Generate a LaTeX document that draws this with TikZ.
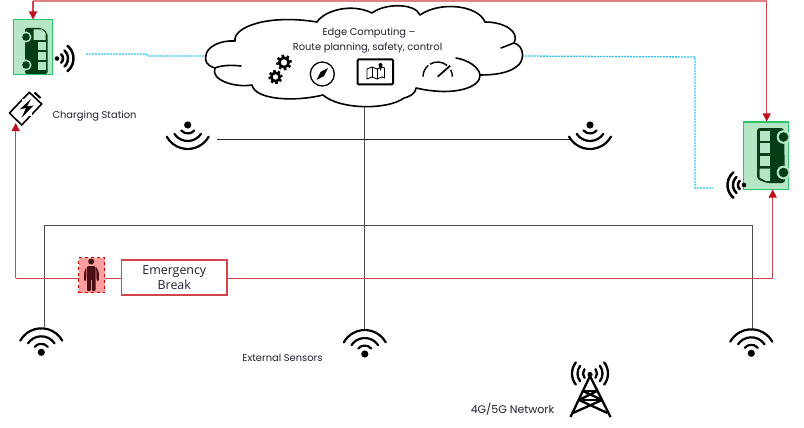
\documentclass[tikz,border=0pt]{standalone}
\usepackage{fontspec}
\setmainfont{Poppins}
\newfontfamily\boxfont{Open Sans}
\usetikzlibrary{arrows.meta}
\definecolor{busfill}{HTML}{B5E6C5}
\definecolor{busedge}{HTML}{2BC46A}
\definecolor{busdark}{HTML}{063D14}
\definecolor{redline}{HTML}{D2434B}
\definecolor{redhead}{HTML}{C00F1E}
\definecolor{redpale}{HTML}{E08080}
\definecolor{netline}{HTML}{4D4D4D}
\definecolor{linkcyan}{HTML}{2FC4F5}
\definecolor{txt}{HTML}{1E1E2E}
\definecolor{maroon}{HTML}{4A0F12}
\tikzset{
  busbox/.style={draw=busedge,fill=busfill,line width=1pt,inner sep=0pt},
  redlink/.style={draw=redline,line width=1.1pt},
  redarrow/.style={redlink,-{Triangle[width=8pt,length=8pt,color=redhead]}},
  netlink/.style={draw=netline,line width=.9pt},
  cyanlink/.style={draw=linkcyan,line width=1.3pt,dash pattern=on 2pt off 1pt},
  label/.style={font=\fontsize{9.9}{12}\selectfont,text=txt,inner sep=0pt},
}
\newcommand{\wifiicon}[4]{%
  \begin{scope}[shift={(#1,#2)},rotate=#3,x=1pt,y=1pt]
    \begin{scope}[scale=#4]
    \fill circle (3.6);
    \draw[line width=2.2pt,line cap=round] (40:8.5) arc (40:140:8.5);
    \draw[line width=2.2pt,line cap=round] (34:16) arc (34:146:16);
    \draw[line width=2.2pt,line cap=round] (29:24) arc (29:151:24);
    \end{scope}
  \end{scope}}
\newcommand{\sidewifi}[3]{%
  \begin{scope}[shift={(#1,#2)},rotate=#3,x=1pt,y=1pt]
    \fill circle (2.3);
    \foreach \r/\w in {6/45,11/47,16.5/50}{
      \draw[line width=2.5pt,line cap=round] (90-\w:\r) arc (90-\w:90+\w:\r);}
  \end{scope}}
\newcommand{\gearicon}[3]{%
  \begin{scope}[shift={(#1,#2)},x=1pt,y=1pt]
    \draw[line width=2.6pt] circle (#3*0.6);
    \foreach \a in {0,45,...,315}{\draw[line width=2.6pt] (\a+10:#3*0.72) -- (\a+10:#3);}
  \end{scope}}
\begin{document}
\begin{tikzpicture}[x=1pt,y=-1pt]
\useasboundingbox (0,0) rectangle (804,428);
\fill[white] (0,0) rectangle (804,428);

% anchors for connector ends
\coordinate (topL) at (33,1);
\coordinate (topR) at (766.7,1);
\coordinate (chargeEnd) at (15.7,123);
\coordinate (redL) at (15.7,278.3);
\coordinate (redR) at (772.7,278.3);
\coordinate (netL) at (44,225);
\coordinate (netR) at (752,225);
\coordinate (sensorL) at (44,327);
\coordinate (sensorM) at (364.5,330);
\coordinate (sensorR) at (752,329);
\coordinate (cloudB) at (364.5,106);
\coordinate (wifiUL) at (217,139);
\coordinate (wifiUR) at (570,139);
\coordinate (cyanA) at (86,54);
\coordinate (cyanB) at (146,54);
\coordinate (cyanC) at (148,56);
\coordinate (cyanD) at (208,56);
\coordinate (cyanE) at (522,56);
\coordinate (cyanF) at (695,57);
\coordinate (cyanG) at (695,188);
\coordinate (cyanH) at (713,188);

% boxes
\node[busbox,minimum width=39pt,minimum height=55pt] (busL) at (32.5,47.5) {};
\node[busbox,minimum width=45.5pt,minimum height=67pt] (busR) at (766.2,155.5) {};
\node[draw=redline,fill=white,line width=1.2pt,minimum width=105.5pt,minimum height=35pt,inner sep=0pt,align=center,font=\boxfont\fontsize{12.4}{15}\selectfont,text=txt] (ebox) at (174.3,277.5) {Emergency\\Break};

% connectors
\draw[netlink] (sensorL) -- (netL) -- (netR) -- (sensorR);
\draw[netlink,line width=.8pt] (cloudB) -- (sensorM);
\draw[line width=.7pt,draw=black!85] (wifiUL) -- (wifiUR);
\draw[redlink] (redL) -- (ebox.west|-redL);
\draw[redlink] (ebox.east|-redR) -- (redR);
\draw[redarrow] (redL) -- (chargeEnd);
\draw[redarrow] (redR) -- (redR|-busR.south);
\draw[draw=redpale,line width=3pt] (topL) -- (topR);
\draw[redarrow] (topL) -- (topL|-busL.north);
\draw[redarrow] (topR) -- (topR|-busR.north);
\draw[cyanlink] (cyanA) -- (cyanB) -- (cyanC) -- (cyanD);
\draw[cyanlink] (cyanE) -- (cyanF) -- (cyanG) -- (cyanH);

% person
\node[draw=red!85!black,fill=red!38!white,dashed,line width=1pt,minimum width=26pt,minimum height=35pt,inner sep=0pt] (person) at (91.7,275.3) {};
\fill[maroon] (91.2,261.5) circle (3);
\fill[maroon,rounded corners=1pt] (87,266) -- (95.5,266) -- (95.5,291) -- (91.8,291) -- (91.8,279) -- (90.8,279) -- (90.8,291) -- (87,291) -- cycle;
\fill[maroon,rounded corners=1pt] (86.4,266.5) -- (84.2,272) -- (84.2,281) -- (86.2,281) -- cycle;
\fill[maroon,rounded corners=1pt] (96.1,266.5) -- (98.8,272) -- (98.8,281) -- (96.6,281) -- cycle;

% left bus
\fill[busdark,rounded corners=2pt] (25,28) -- (42,28) -- (47.5,33) -- (47.5,74) -- (25,74) -- cycle;
\foreach \ya/\yb in {42/50,52/60,62/70}{\fill[busfill] (37.5,\ya) rectangle (45.5,\yb);}
\fill[busfill] (33.5,29.5) -- (42,29.5) -- (45.5,33) -- (45.5,40) -- (33.5,40) -- cycle;
\foreach \yy in {37,65}{\fill[busfill] (26,\yy) circle (5.5);\fill[busdark] (26,\yy) circle (3.8);}

% right bus
\fill[busdark,rounded corners=3pt] (757,128) -- (784,128) -- (785,183) -- (766,183) -- (757,179) -- cycle;
\foreach \ya/\yb in {131/141,143/153,156/166}{\fill[busfill] (759.5,\ya) rectangle (770,\yb);}
\fill[busfill] (759.5,168.5) -- (770,168.5) -- (770,181) -- (766,181) -- (759.5,177.5) -- cycle;
\foreach \yy in {137,172.5}{\fill[busfill] (783.5,\yy) circle (6.8);\fill[busdark] (783.5,\yy) circle (4.8);}

% wifi icons
\wifiicon{41.3}{352.3}{0}{1}
\wifiicon{364.8}{354}{0}{1}
\wifiicon{751.3}{353.3}{0}{1}
\wifiicon{187.7}{125}{180}{1}
\wifiicon{590}{125}{180}{1}
\sidewifi{57}{58.5}{-90}
\sidewifi{744}{185}{90}

% charging station
\begin{scope}[line width=1.6pt,line join=round]
  \draw[fill=white] (9.5,113) -- (29.3,92.3) -- (41.7,104) -- (21.7,125) -- cycle;
  \draw[line width=2pt] (34.5,92.5) -- (40.5,98);
  \fill[white] (22,99) rectangle (32,116);
  \fill (31,99) -- (19.5,109.5) -- (26,108) -- (21.5,118) -- (33.5,105.5) -- (27,106.5) -- cycle;
\end{scope}

% cloud
\draw[line width=1.6pt,fill=white,line join=round]
  (206,55)
  .. controls (207,47) and (220,40) .. (235,41)
  .. controls (233,27) and (268,14) .. (317,22)
  .. controls (325,10) and (352,3) .. (372,13)
  .. controls (385,3) and (415,3) .. (420,15)
  .. controls (440,1) and (478,5) .. (485,22)
  .. controls (505,22) and (520,32) .. (514,43)
  .. controls (525,46) and (525,62) .. (516,67)
  .. controls (508,73) and (495,75) .. (480,75)
  .. controls (481,87) and (455,97) .. (416,88)
  .. controls (415,95) and (408,97) .. (404,98)
  .. controls (388,110) and (340,110) .. (323,95)
  .. controls (295,102) and (255,100) .. (252,85)
  .. controls (235,88) and (210,80) .. (215,68)
  .. controls (205,65) and (205,60) .. (206,55) -- cycle;
\draw[line width=1.6pt,line cap=round] (215,68) .. controls (222,65) and (232,65) .. (241,66);
\draw[line width=1.6pt,line cap=round] (456,58) .. controls (468,60) and (479,67) .. (480,75);
\draw[line width=1.6pt,line cap=round] (501,48) -- (514,43);

\node[label] (edge1) at (369,33.5) {Edge Computing --};
\node[label] (edge2) at (367.5,48.5) {Route planning, safety, control};
\node[label] (charge) at (94.5,116) {Charging Station};
\node[label] (ext) at (282.5,357.5) {External Sensors};
\node[label,font=\fontsize{11}{12}\selectfont] (net) at (512.5,409.5) {4G/5G Network};

% cloud icons
\gearicon{284}{62.5}{7.8}
\gearicon{275.5}{77}{7}
\draw[line width=1.3pt] (322.3,74) circle (12);
\fill (316.5,80) -- (320.5,72) -- (328,68) -- (324,76) -- cycle;
\draw[line width=2pt,rounded corners=1pt] (357.5,59.5) rectangle (393,84.3);
\draw[line width=.9pt,line join=round] (367,69) -- (372,67) -- (377,69) -- (382,67) -- (384.5,68) -- (384.5,78) -- (382,77) -- (377,79) -- (372,77) -- (367,79) -- cycle;
\draw[line width=.7pt] (372,67) -- (372,77) (377,69) -- (377,79);
\fill (380.5,65) circle (2) (379,66) -- (382,66) -- (380.5,71) -- cycle;
\begin{scope}[shift={(437.7,76.7)},x=1pt,y=1pt]
  \draw[line width=1.4pt] (180:14.7) arc (180:130:14.7);
  \draw[line width=1.4pt] (122:14.7) arc (122:50:14.7);
  \draw[line width=1.4pt] (28:14.7) arc (28:0:14.7);
  \draw[line width=1.7pt] (0,0) -- (12.5,11);
\end{scope}

% tower
\begin{scope}[line width=2.3pt,line join=miter]
  \draw (570.5,417) -- (590,376) -- (610.5,417);
  \draw (579,400) -- (602,400);
  \draw (583,391) -- (597,391);
  \draw (573,413) -- (602,400) (607.5,413) -- (579,400);
  \draw (579,400) -- (597,391) (602,400) -- (583,391);
  \fill (590,374.5) circle (2.6);
\end{scope}
\begin{scope}[shift={(590,373.5)},x=1pt,y=1pt,line width=2.3pt,line cap=round]
  \foreach \r in {7,12.5,18}{
    \draw (-38:\r) arc (-38:38:\r);
    \draw (142:\r) arc (142:218:\r);
  }
\end{scope}
\end{tikzpicture}
\end{document}
